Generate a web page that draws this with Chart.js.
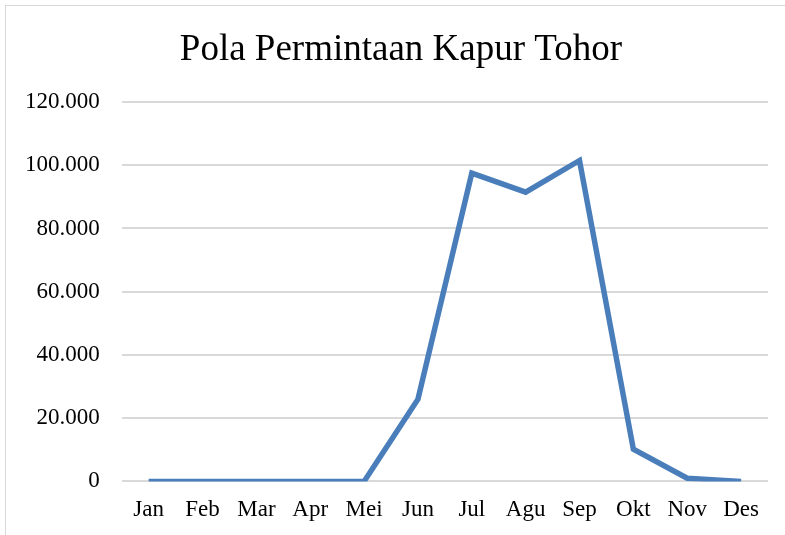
<!DOCTYPE html>
<html>
<head>
<meta charset="utf-8">
<script src="https://cdn.jsdelivr.net/npm/chart.js@4/dist/chart.umd.min.js"></script>
<style>
    html, body { margin: 0; padding: 0; background: #fff; overflow: hidden; }
    #frame {
        position: absolute; left: 5px; top: 5px; width: 790px; height: 540px;
        border: 1px solid #d9d9d9; box-sizing: border-box;
    }
    #chart { position: absolute; left: 0; top: 0; }
</style>
</head>
<body>
<div id="frame"></div>
<canvas id="chart" width="785" height="535"></canvas>
<script>
// Monthly demand
const months = ['Jan', 'Feb', 'Mar', 'Apr', 'Mei', 'Jun', 'Jul', 'Agu', 'Sep', 'Okt', 'Nov', 'Des'];
const demand = [0, 0, 0, 0, 0, 26000, 97500, 91500, 101500, 10200, 1000, 0];
const yTicks = [0, 20000, 40000, 60000, 80000, 100000, 120000];
const chartTitle = 'Pola Permintaan Kapur Tohor';

const serif = '"Liberation Serif", "Times New Roman", serif';

function formatNum(v) {
    return v.toLocaleString('de-DE');
}

// Title sits a bit right of the canvas centre, so draw it by hand
const titlePlugin = {
    id: 'titleText',
    afterDraw(chart) {
        const c = chart.ctx;
        c.save();
        c.font = '37px ' + serif;
        c.fillStyle = '#000';
        c.textAlign = 'center';
        c.textBaseline = 'alphabetic';
        c.fillText(chartTitle, 401, 60);
        c.restore();
    }
};

const ctx = document.getElementById('chart').getContext('2d');
new Chart(ctx, {
    type: 'line',
    data: {
        labels: months,
        datasets: [{
            label: 'Permintaan',
            data: demand,
            borderColor: '#4a7ebb',
            borderWidth: 5.5,
            pointRadius: 0,
            tension: 0,
            fill: false
        }]
    },
    plugins: [titlePlugin],
    options: {
        responsive: false,
        animation: false,
        devicePixelRatio: 1,
        layout: { padding: { left: 3, right: 17, top: 102, bottom: 4 } },
        plugins: {
            legend: { display: false },
            tooltip: { enabled: false },
            title: { display: false }
        },
        scales: {
            x: {
                offset: true,
                grid: { display: false },
                border: { display: false },
                ticks: { color: '#000', font: { family: serif, size: 23 }, padding: 7, maxRotation: 0, autoSkip: false }
            },
            y: {
                min: 0,
                max: 120000,
                afterBuildTicks: axis => { axis.ticks = yTicks.map(v => ({ value: v })); },
                grid: { color: '#d9d9d9', lineWidth: 2, drawTicks: false },
                border: { display: false },
                ticks: {
                    color: '#000',
                    font: { family: serif, size: 23 },
                    padding: 22,
                    callback: v => formatNum(v)
                }
            }
        }
    }
});
</script>
</body>
</html>
